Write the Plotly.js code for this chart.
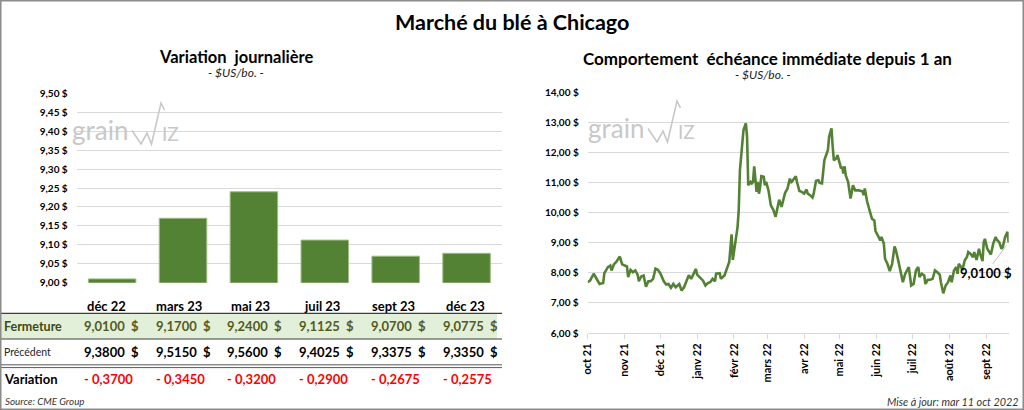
<!DOCTYPE html>
<html><head><meta charset="utf-8">
<script src="https://cdn.plot.ly/plotly-3.0.1.min.js"></script>
<style>html,body{margin:0;padding:0;background:#fff;}#chart{width:1024px;height:410px;}</style>
</head><body><div id="chart"></div>
<script>
// ---------- DATA ----------
const contracts = ['déc 22','mars 23','mai 23','juil 23','sept 23','déc 23'];
const closeValues = [9.0100, 9.1700, 9.2400, 9.1125, 9.0700, 9.0775];
const previousValues = [9.3800, 9.5150, 9.5600, 9.4025, 9.3375, 9.3350];
const changeValues = [-0.3700, -0.3450, -0.3200, -0.2900, -0.2675, -0.2575];
const rowLabels = ['Fermeture', 'Précédent', 'Variation'];

const historyDates = [
'2021-10-22','2021-10-24','2021-10-27','2021-10-30','2021-11-01','2021-11-04','2021-11-05','2021-11-08','2021-11-10','2021-11-11',
'2021-11-13','2021-11-15','2021-11-18','2021-11-20','2021-11-22','2021-11-24','2021-11-25','2021-11-27','2021-11-29','2021-12-01',
'2021-12-03','2021-12-04','2021-12-06','2021-12-08','2021-12-10','2021-12-12','2021-12-14','2021-12-16','2021-12-18','2021-12-20',
'2021-12-22','2021-12-25','2021-12-27','2021-12-29','2021-12-31','2022-01-02','2022-01-04','2022-01-07','2022-01-09','2022-01-11',
'2022-01-13','2022-01-15','2022-01-17','2022-01-19','2022-01-21','2022-01-22','2022-01-24','2022-01-27','2022-01-29','2022-01-31',
'2022-02-02','2022-02-04','2022-02-06','2022-02-07','2022-02-10','2022-02-11','2022-02-14','2022-02-16','2022-02-18','2022-02-20',
'2022-02-21','2022-02-23','2022-02-25','2022-02-26','2022-02-27','2022-03-01','2022-03-02','2022-03-04','2022-03-05','2022-03-06',
'2022-03-08','2022-03-09','2022-03-10','2022-03-11','2022-03-13','2022-03-14','2022-03-15','2022-03-16','2022-03-17','2022-03-19',
'2022-03-20','2022-03-21','2022-03-23','2022-03-25','2022-03-27','2022-03-29','2022-03-30','2022-04-01','2022-04-03','2022-04-05',
'2022-04-06','2022-04-08','2022-04-10','2022-04-11','2022-04-13','2022-04-15','2022-04-16','2022-04-18','2022-04-20','2022-04-22',
'2022-04-24','2022-04-25','2022-04-27','2022-04-29','2022-04-30','2022-05-02','2022-05-04','2022-05-05','2022-05-07','2022-05-09',
'2022-05-10','2022-05-12','2022-05-13','2022-05-15','2022-05-16','2022-05-17','2022-05-19','2022-05-20','2022-05-22','2022-05-23',
'2022-05-24','2022-05-25','2022-05-26','2022-05-27','2022-05-29','2022-05-31','2022-06-01','2022-06-02','2022-06-04','2022-06-05',
'2022-06-07','2022-06-10','2022-06-11','2022-06-12','2022-06-14','2022-06-16','2022-06-18','2022-06-20','2022-06-21','2022-06-23',
'2022-06-25','2022-06-26','2022-06-28','2022-06-29','2022-07-01','2022-07-03','2022-07-05','2022-07-07','2022-07-08','2022-07-10',
'2022-07-12','2022-07-13','2022-07-14','2022-07-16','2022-07-18','2022-07-19','2022-07-21','2022-07-23','2022-07-25','2022-07-27',
'2022-07-28','2022-07-30','2022-08-01','2022-08-02','2022-08-04','2022-08-06','2022-08-08','2022-08-10','2022-08-12','2022-08-14',
'2022-08-15','2022-08-17','2022-08-19','2022-08-21','2022-08-23','2022-08-24','2022-08-26','2022-08-28','2022-08-29','2022-08-30',
'2022-09-01','2022-09-02','2022-09-04','2022-09-06','2022-09-07','2022-09-09','2022-09-11','2022-09-12','2022-09-14','2022-09-16',
'2022-09-17','2022-09-19','2022-09-20','2022-09-21','2022-09-23','2022-09-25','2022-09-26','2022-09-28','2022-09-30','2022-10-01',
'2022-10-03','2022-10-05','2022-10-06','2022-10-08','2022-10-10','2022-10-11'];
const historyValues = [
7.69,7.74,7.97,7.74,7.63,7.66,7.99,8.19,8.24,8.08,
8.28,8.36,8.54,8.28,8.24,8.21,7.86,8.10,8.02,8.08,
7.94,7.72,7.88,7.91,7.54,7.72,7.72,7.80,8.14,8.10,
7.99,7.72,7.61,7.63,7.50,7.63,7.52,7.63,7.41,7.52,
7.72,7.92,7.80,7.97,8.13,7.94,7.86,7.74,7.58,7.66,
7.69,7.80,7.72,7.97,7.99,7.80,7.91,8.13,8.36,9.28,
8.43,8.97,9.52,10.08,11.41,12.30,12.74,12.97,12.52,10.91,
11.02,10.97,11.02,11.54,10.69,11.02,10.63,10.86,11.21,11.19,
10.91,11.02,10.74,10.24,10.10,9.86,10.02,10.43,10.19,10.52,
10.66,10.80,11.13,10.99,11.10,11.21,11.02,10.72,10.69,10.63,
10.77,10.63,10.58,10.50,10.63,11.06,11.08,10.99,10.97,11.74,
11.86,12.08,12.52,12.80,12.19,11.74,11.80,11.91,11.63,11.47,
11.52,11.30,11.54,11.24,11.02,10.47,10.66,10.91,10.74,10.74,
10.74,10.71,10.58,10.80,10.36,10.08,9.80,9.74,9.39,9.24,
9.08,9.19,8.97,8.47,8.30,8.06,8.30,8.88,8.77,8.43,
8.08,7.80,7.69,7.97,8.13,8.19,7.58,7.63,8.08,8.19,
7.86,7.97,7.91,7.63,7.77,7.77,7.80,8.08,8.02,7.94,
7.69,7.32,7.58,7.69,7.91,7.69,8.08,8.19,7.97,8.30,
8.19,8.08,8.41,8.54,8.69,8.63,8.52,8.69,8.43,8.80,
8.63,8.39,9.02,9.13,8.80,8.69,8.61,8.97,9.19,9.10,
9.02,8.80,8.86,9.19,9.36,9.01];

const monthTickDates = ['2021-10-22','2021-11-22','2021-12-22','2022-01-22','2022-02-22','2022-03-22',
  '2022-04-22','2022-05-22','2022-06-22','2022-07-22','2022-08-22','2022-09-22'];
const monthTickLabels = ['oct 21','nov 21','déc 21','janv 22','févr 22','mars 22',
  'avr 22','mai 22','juin 22','juil 22','août 22','sept 22'];

// ---------- LAYOUT HELPERS ----------
const W = 1024, H = 410;
const px = x => x / W;
const py = y => 1 - y / H;
const FONT = 'Lato, "Open Sans", sans-serif';
const GREEN = '#548235';
const GRID = '#d9d9d9';
const fmt4 = v => Math.abs(v).toFixed(4).replace('.', ',');

const annotations = [];
const shapes = [];

function txt(x, y, text, opts) {
  const a = Object.assign({
    xref: 'paper', yref: 'paper', x: px(x), y: py(y), text: text, showarrow: false,
    xanchor: 'center', yanchor: 'middle', borderpad: 0, font: {family: FONT, size: 12, color: '#000'}
  }, opts || {});
  if (!a.align) a.align = a.xanchor === 'right' ? 'right' : (a.xanchor === 'left' ? 'left' : 'center');
  annotations.push(a);
}
function line(x0, y0, x1, y1, color, width) {
  shapes.push({type: 'line', xref: 'paper', yref: 'paper', x0: px(x0), y0: py(y0), x1: px(x1), y1: py(y1),
    line: {color: color, width: width}});
}

// Titles
txt(512, 22, 'Marché du blé à Chicago', {font: {family: FONT, size: 21.5, color: '#000', weight: 'bold'}});
txt(236, 57, 'Variation  journalière', {font: {family: FONT, size: 16.5, color: '#000', weight: 'bold'}});
txt(236, 73, '<i>- $US/bo. -</i>', {font: {family: FONT, size: 12, color: '#222'}});
txt(767, 58, 'Comportement  échéance immédiate depuis 1 an', {font: {family: FONT, size: 17, color: '#000', weight: 'bold'}});
txt(763, 75, '<i>- $US/bo. -</i>', {font: {family: FONT, size: 12, color: '#222'}});

// Watermark logos
function logo(ox, oy) {
  const c = '#c8c8c8';
  txt(ox, oy, 'grain', {xanchor: 'left', yanchor: 'bottom', font: {family: FONT, size: 26, color: c}});
  shapes.push({type: 'path', xref: 'paper', yref: 'paper',
    path: 'M' + px(ox + 61) + ',' + py(oy - 16.5) + ' L' + px(ox + 70) + ',' + py(oy - 3) +
          ' L' + px(ox + 76) + ',' + py(oy - 14) + ' L' + px(ox + 80.5) + ',' + py(oy - 3) +
          ' L' + px(ox + 90) + ',' + py(oy - 44) + ' L' + px(ox + 93.5) + ',' + py(oy - 37),
    line: {color: c, width: 1.6}});
  txt(ox + 90, oy - 1, 'IZ', {xanchor: 'left', yanchor: 'bottom', font: {family: FONT, size: 19, color: c}});
}
logo(71, 147);
logo(587, 145);

// Table
const colCenter = i => 106.7 + 71.8 * i;
shapes.push({type: 'rect', xref: 'paper', yref: 'paper', x0: px(0), x1: px(497), y0: py(313.3), y1: py(339),
  fillcolor: '#e2efd9', line: {width: 0}, layer: 'below'});
line(0, 313.3, 502, 313.3, '#3f3f3f', 1.2);
line(0, 339, 502, 339, '#3f3f3f', 1.2);
line(0, 364.8, 502, 364.8, '#595959', 1);
line(0, 367.6, 502, 367.6, '#595959', 1);

const numFont = c => ({family: FONT, size: 13, color: c, weight: 'bold'});
contracts.forEach((c, i) => {
  const cx = colCenter(i);
  txt(cx, 306, c, {font: numFont('#000')});
  txt(cx - 24, 326, fmt4(closeValues[i]), {xanchor: 'left', font: numFont('#545a1c')});
  txt(cx + 23, 326, '$', {xanchor: 'left', font: numFont('#545a1c')});
  txt(cx - 24, 352, fmt4(previousValues[i]), {xanchor: 'left', font: numFont('#000')});
  txt(cx + 23, 352, '$', {xanchor: 'left', font: numFont('#000')});
  txt(cx - 24, 379, (changeValues[i] < 0 ? '- ' : '+ ') + fmt4(changeValues[i]), {xanchor: 'left', font: numFont('#ff0000')});
});
txt(3, 326, rowLabels[0], {xanchor: 'left', font: {family: FONT, size: 12.5, color: '#3c4a1a', weight: 'bold'}});
txt(3, 352, rowLabels[1], {xanchor: 'left', font: {family: FONT, size: 10.5, color: '#262626'}});
txt(3, 379, rowLabels[2], {xanchor: 'left', font: {family: FONT, size: 13, color: '#000', weight: 'bold'}});

// Footers
txt(4, 401, '<i>Source: CME Group</i>', {xanchor: 'left', font: {family: FONT, size: 9.8, color: '#333'}});
txt(1019, 401, '<i>Mise à jour: mar 11 oct 2022</i>', {xanchor: 'right', font: {family: FONT, size: 10.8, color: '#333'}});

// Last-value label on the line
const lastIdx = historyValues.length - 1;
annotations.push({
  xref: 'x2', yref: 'y2', x: historyDates[lastIdx], y: historyValues[lastIdx],
  text: fmt4(historyValues[lastIdx]) + ' $', showarrow: true, arrowhead: 0, arrowwidth: 1, arrowcolor: '#bfbfbf',
  ax: -23, ay: 31, standoff: 4, font: {family: FONT, size: 13, color: '#000', weight: 'bold'}
});

// Outer frame
shapes.push({type: 'rect', xref: 'paper', yref: 'paper', x0: 0.0005, x1: 0.9995, y0: 0.001, y1: 0.999,
  line: {color: '#8c8c8c', width: 2}});

const traces = [
  {type: 'bar', x: contracts, y: closeValues, xaxis: 'x', yaxis: 'y',
   marker: {color: GREEN, line: {color: '#9dbb82', width: 1}}, hoverinfo: 'skip'},
  {type: 'scatter', mode: 'lines', x: historyDates, y: historyValues, xaxis: 'x2', yaxis: 'y2',
   line: {color: GREEN, width: 2.6}, hoverinfo: 'skip'}
];

const tickFont = {family: FONT, size: 10, color: '#000', weight: 'bold'};
const layout = {
  width: W, height: H, margin: {l: 0, r: 0, t: 0, b: 0},
  paper_bgcolor: '#ffffff', plot_bgcolor: 'rgba(0,0,0,0)',
  separators: ', ', showlegend: false, bargap: 0.33,
  font: {family: FONT, color: '#000'},
  xaxis: {domain: [px(76.7), px(502)], type: 'category', range: [-0.5, 5.5], showticklabels: false,
    showgrid: false, zeroline: false, showline: false, fixedrange: true},
  yaxis: {domain: [py(282.7), py(93.3)], range: [9.0, 9.5], tick0: 9, dtick: 0.05, tickformat: '.2f', ticksuffix: ' $',
    showgrid: true, gridcolor: GRID, gridwidth: 1, zeroline: false, showline: false, ticks: '',
    ticklabelstandoff: 8, tickfont: tickFont, fixedrange: true},
  xaxis2: {domain: [px(587.7), px(1008.7)], anchor: 'y2', type: 'date', range: ['2021-10-22', '2022-10-11'],
    tickmode: 'array', tickvals: monthTickDates, ticktext: monthTickLabels, tickangle: -90,
    ticks: 'outside', ticklen: 5, tickcolor: GRID, showline: true, linecolor: GRID, linewidth: 1,
    showgrid: false, zeroline: false, tickfont: {family: FONT, size: 11, color: '#000', weight: 'bold'}, fixedrange: true},
  yaxis2: {domain: [py(333), py(92.3)], anchor: 'x2', range: [6, 14], tick0: 6, dtick: 1, tickformat: '.2f', ticksuffix: ' $',
    showgrid: true, gridcolor: GRID, gridwidth: 1, zeroline: false, showline: false, ticks: '',
    ticklabelstandoff: 8, tickfont: tickFont, fixedrange: true},
  annotations: annotations,
  shapes: shapes
};

Plotly.newPlot('chart', traces, layout, {displayModeBar: false, staticPlot: true});
</script>
</body></html>
